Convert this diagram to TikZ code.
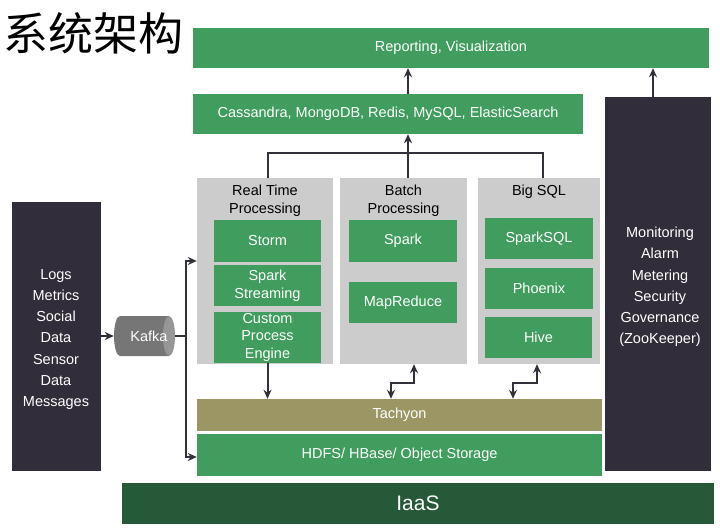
\documentclass[tikz,border=0pt]{standalone}
\usepackage{fontspec}
\setmainfont{Liberation Sans}
\newfontfamily\cjk{Noto Sans CJK SC}
\usetikzlibrary{shapes.geometric,arrows.meta,calc}
\definecolor{cgreen}{RGB}{64,157,94}
\definecolor{cdark}{RGB}{50,45,58}
\definecolor{cgray}{RGB}{204,204,204}
\definecolor{colive}{RGB}{155,150,100}
\definecolor{ciaas}{RGB}{37,89,56}
\definecolor{ckafka}{RGB}{118,118,118}
\definecolor{ckafkaend}{RGB}{150,150,150}
\definecolor{cline}{RGB}{52,48,58}
\begin{document}
\begin{tikzpicture}[x=1pt,y=-1pt,
  base/.style={inner sep=0pt, align=center, font=\fontsize{14.5}{17.5}\selectfont},
  gbox/.style={base, fill=cgreen, text=white},
  graybox/.style={base, fill=cgray},
  darkbox/.style={base, fill=cdark, text=white, font=\fontsize{14.5}{21}\selectfont},
  ttl/.style={base, text=black},
  line/.style={draw=cline, line width=2pt},
  arr/.style={line, -{Stealth[length=9pt,width=8pt]}},
  arrb/.style={line, {Stealth[length=9pt,width=8pt]}-{Stealth[length=9pt,width=8pt]}}
]
\useasboundingbox (0,0) rectangle (720,531);
% title
\node[anchor=west, inner sep=0pt, font=\cjk\fontsize{45}{45}\selectfont] (title) at (3,33) {系统架构};
% top layers
\node[gbox, minimum width=516pt, minimum height=40pt] (report) at (451,48) {Reporting, Visualization};
\node[gbox, minimum width=390pt, minimum height=40pt] (cass) at (388,114) {Cassandra, MongoDB, Redis, MySQL, ElasticSearch};
% processing groups
\node[graybox, minimum width=136pt, minimum height=186pt] (real) at (265,271) {};
\node[ttl] (realt) at (265,200.5) {Real Time\\Processing};
\node[gbox, minimum width=107pt, minimum height=42pt] (storm) at (267.5,241) {Storm};
\node[gbox, minimum width=107pt, minimum height=41pt] (sstream) at (267.5,285.5) {Spark\\Streaming};
\node[gbox, minimum width=107pt, minimum height=51pt] (custom) at (267.5,337) {Custom\\Process\\Engine};
\node[graybox, minimum width=127pt, minimum height=186pt] (batch) at (403.5,271) {};
\node[ttl] (batcht) at (403.5,200.5) {Batch\\Processing};
\node[gbox, minimum width=108pt, minimum height=42pt] (spark) at (403,241) {Spark};
\node[gbox, minimum width=108pt, minimum height=41pt] (mapred) at (403,302.5) {MapReduce};
\node[graybox, minimum width=122pt, minimum height=186pt] (bigsql) at (539,271) {};
\node[ttl] (bigsqlt) at (539,192) {Big SQL};
\node[gbox, minimum width=108pt, minimum height=41pt] (sparksql) at (539,238.5) {SparkSQL};
\node[gbox, minimum width=108pt, minimum height=41pt] (phoenix) at (539,288.5) {Phoenix};
\node[gbox, minimum width=107pt, minimum height=41pt] (hive) at (538.5,337.5) {Hive};
% storage
\node[base, fill=colive, text=white, minimum width=405pt, minimum height=32pt] (tachyon) at (399.5,415) {Tachyon};
\node[gbox, minimum width=405pt, minimum height=42pt] (hdfs) at (399.5,455) {HDFS/ HBase/ Object Storage};
\node[base, fill=ciaas, text=white, minimum width=592pt, minimum height=41pt, font=\fontsize{21}{21}\selectfont] (iaas) at (418,503.5) {IaaS};
% side boxes
\node[darkbox, minimum width=89pt, minimum height=269pt] (src) at (56.5,336) {};
\node[base, text=white, font=\fontsize{14.5}{21.2}\selectfont] (srct) at (56,339.5) {Logs\\Metrics\\Social\\Data\\Sensor\\Data\\Messages};
\node[darkbox, minimum width=106pt, minimum height=374pt] (monitor) at (658,284) {};
\node[base, text=white, font=\fontsize{14.5}{21.2}\selectfont] (monitort) at (660,287) {Monitoring\\Alarm\\Metering\\Security\\Governance\\(ZooKeeper)};
% kafka cylinder
\fill[ckafka] (169,316) -- (120,316) arc[start angle=90, end angle=270, x radius=6pt, y radius=20pt] -- (169,356) -- cycle;
\fill[ckafkaend] (169,336) ellipse[x radius=6pt, y radius=20pt];
\node[base, minimum width=61pt, minimum height=40pt] (kafka) at (144.5,336) {};
\node[base, text=white] (kafkat) at (149,336) {Kafka};
% connectors
\coordinate (xc) at (408,153);
\coordinate (ks) at (186,336);
\draw[arr] (xc |- cass.north) -- (xc |- report.south);
\draw[arr] ([xshift=-5pt]monitor.north) -- ([xshift=-5pt]monitor.north |- report.south);
\draw[line] ([xshift=2.5pt]real.north) |- (xc) -| ([xshift=4pt]bigsql.north);
\draw[line] (xc) -- (xc |- batch.north);
\draw[arr] (xc) -- (xc |- cass.south);
\draw[arr] (src.east) -- (kafka.west);
\draw[line] (kafka.east) -- (ks);
\draw[arr] (ks) |- ([yshift=10pt]real.west);
\draw[arr] (ks) |- ([yshift=-2pt]hdfs.west);
\draw[arr] (custom.south) -- (custom.south |- tachyon.north);
\draw[arrb] ([xshift=10.5pt]batch.south) -- ++(0,19) -| ([xshift=-12.5pt]batch.south |- tachyon.north);
\draw[arrb] ([xshift=-2pt]bigsql.south) -- ++(0,19) -| ([xshift=-26pt]bigsql.south |- tachyon.north);
\end{tikzpicture}
\end{document}
